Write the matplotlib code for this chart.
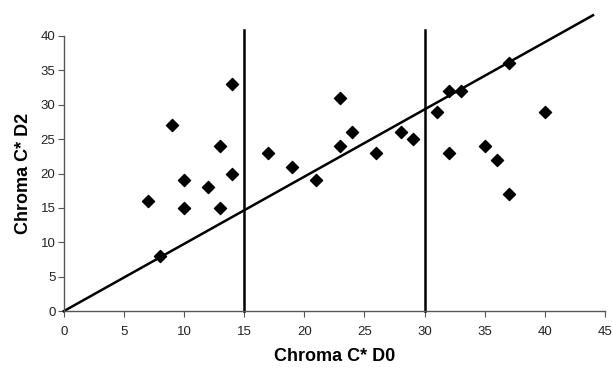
import matplotlib
matplotlib.use("Agg")
import matplotlib.pyplot as plt
import numpy as np

plt.rcParams['font.family'] = ['Liberation Sans', 'DejaVu Sans']

# Chroma C* values
d0 = [7, 8, 9, 10, 10, 12, 13, 13, 14, 14, 17, 19, 21, 23, 23, 24, 26, 28,
      29, 31, 32, 32, 33, 35, 36, 37, 37, 40]
d2 = [16, 8, 27, 19, 15, 18, 24, 15, 33, 20, 23, 21, 19, 31, 24, 26, 23, 26,
      25, 29, 32, 23, 32, 24, 22, 36, 17, 29]
trend_x = [0, 44]
trend_y = [0, 43]
cutoffs = [15, 30]

fig = plt.figure(figsize=(6.13, 3.70), dpi=100)
ax = fig.add_axes([0.104, 0.159, 0.883, 0.744])

ax.plot(trend_x, trend_y, color='black', lw=1.8, clip_on=False, zorder=2)
for c in cutoffs:
    ax.plot([c, c], [0, 40.8], color='black', lw=1.8, clip_on=False, zorder=2)
ax.scatter(d0, d2, marker='D', s=38, color='black', zorder=3, clip_on=False)

ax.set_xlim(0, 45)
ax.set_ylim(0, 40)
ax.set_xticks(np.arange(0, 46, 5))
ax.set_yticks(np.arange(0, 41, 5))
for s in ['top', 'right']:
    ax.spines[s].set_visible(False)
for s in ['left', 'bottom']:
    ax.spines[s].set_color('#555555')
    ax.spines[s].set_linewidth(1.0)
ax.tick_params(axis='both', labelsize=9.5, color='#555555', length=4,
               direction='out', labelcolor='#222222')
ax.tick_params(axis='x', pad=7)
ax.tick_params(axis='y', pad=2)

ax.set_xlabel('Chroma C* D0', fontsize=13, fontweight='bold', labelpad=7)
ax.set_ylabel('Chroma C* D2', fontsize=13, fontweight='bold', labelpad=6)

fig.savefig('out.png', dpi=100)
